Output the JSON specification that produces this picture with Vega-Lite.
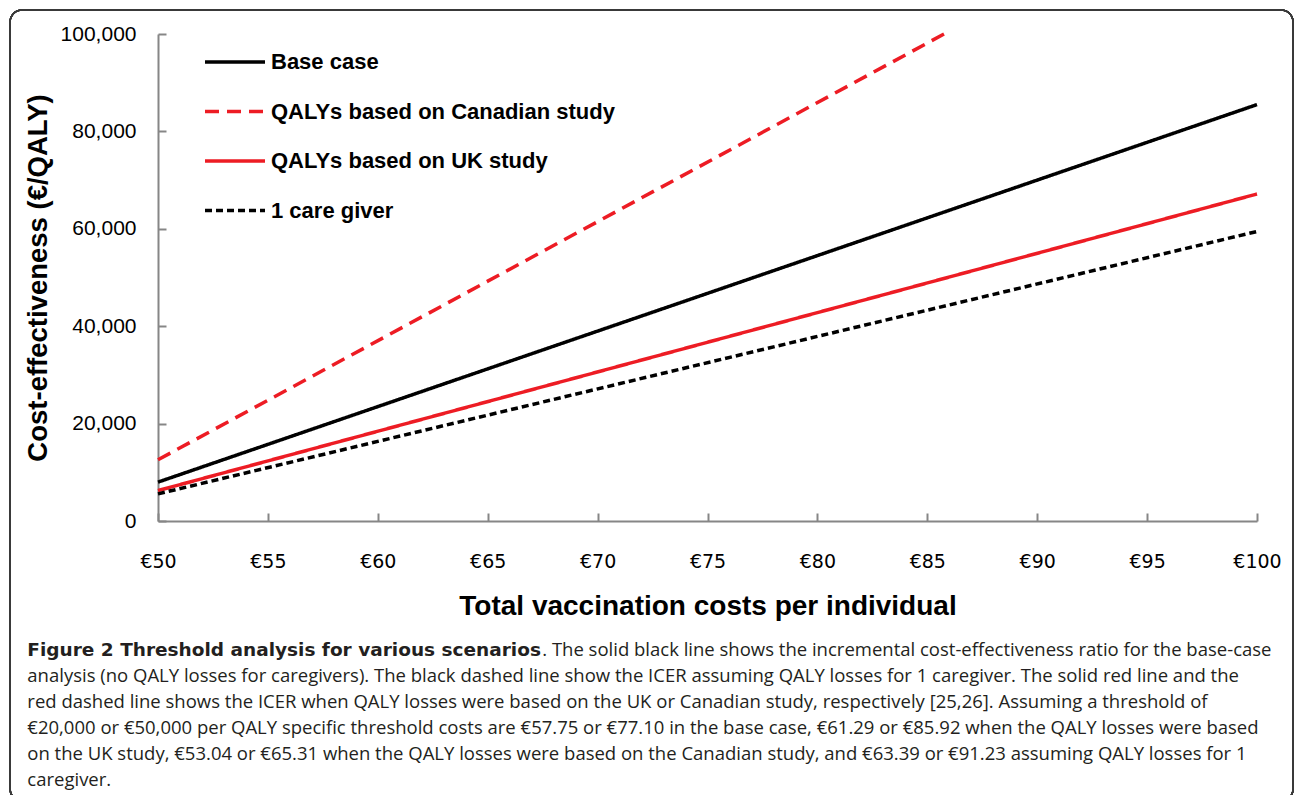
{
  "$schema": "https://vega.github.io/schema/vega-lite/v6.json",
  "width": 1099,
  "height": 487,
  "autosize": {"type": "none"},
  "padding": {"left": 158, "top": 34, "right": 38, "bottom": 274},
  "background": "white",
  "title": {
    "text": "Figure 2 Threshold analysis for various scenarios",
    "subtitle": [
      "\u200b\u2003\u2003\u2003\u2003\u2003\u2003\u2003\u2003\u2003\u2003\u2003\u2003\u2003\u2003\u2003\u2003\u2003\u2003\u2003\u2003\u2003\u2003\u2003\u2003\u2003\u2003\u2003\u2002\u2009\u2009. The solid black line shows the incremental cost-effectiveness ratio for the base-case",
      "analysis (no QALY losses for caregivers). The black dashed line show the ICER assuming QALY losses for 1 caregiver. The solid red line and the",
      "red dashed line shows the ICER when QALY losses were based on the UK or Canadian study, respectively [25,26]. Assuming a threshold of",
      "€20,000 or €50,000 per QALY specific threshold costs are €57.75 or €77.10 in the base case, €61.29 or €85.92 when the QALY losses were based",
      "on the UK study, €53.04 or €65.31 when the QALY losses were based on the Canadian study, and €63.39 or €91.23 assuming QALY losses for 1",
      "caregiver."
    ],
    "orient": "bottom",
    "anchor": "start",
    "frame": "bounds",
    "offset": -161,
    "dx": 18,
    "font": "DejaVu Sans",
    "fontSize": 18.5,
    "fontWeight": "bold",
    "color": "#231f20",
    "lineHeight": 26,
    "subtitleFont": "Open Sans",
    "subtitleFontSize": 18.5,
    "subtitleFontWeight": "normal",
    "subtitleColor": "#231f20",
    "subtitleLineHeight": 26,
    "subtitlePadding": -18.5
  },
  "config": {
    "view": {"stroke": null},
    "axis": {
      "grid": false,
      "domainColor": "#868686",
      "domainWidth": 2,
      "tickColor": "#868686",
      "tickWidth": 2,
      "tickSize": -8,
      "labelColor": "#000000",
      "titleColor": "#000000"
    }
  },
  "data": {
    "values": [
      {"series": "Base case", "cost": 50, "icer": 7984},
      {"series": "Base case", "cost": 100, "icer": 85505},
      {"series": "QALYs based on Canadian study", "cost": 50, "icer": 12567},
      {"series": "QALYs based on Canadian study", "cost": 85.76, "icer": 100000},
      {"series": "QALYs based on UK study", "cost": 50, "icer": 6249},
      {"series": "QALYs based on UK study", "cost": 100, "icer": 67150},
      {"series": "1 care giver", "cost": 50, "icer": 5571},
      {"series": "1 care giver", "cost": 100, "icer": 59451}
    ]
  },
  "layer": [
    {
      "mark": {"type": "rect", "fill": null, "stroke": "#3a3a3a", "strokeWidth": 1.5, "cornerRadius": 12, "clip": false},
      "encoding": {
        "x": {"datum": 43.27, "type": "quantitative"},
        "x2": {"datum": 101.64},
        "y": {"datum": 104928, "type": "quantitative"},
        "y2": {"datum": -57500}
      }
    },
    {
      "mark": {"type": "line", "strokeWidth": 3.5, "clip": false},
      "encoding": {
        "x": {
          "field": "cost",
          "type": "quantitative",
          "scale": {"domain": [50, 100], "nice": false, "zero": false},
          "axis": {
            "values": [50, 55, 60, 65, 70, 75, 80, 85, 90, 95, 100],
            "labelExpr": "'€' + datum.value",
            "labelFlush": false,
            "labelFont": "DejaVu Sans",
            "labelFontSize": 19,
            "labelPadding": 39,
            "title": "Total vaccination costs per individual",
            "titleFont": "Liberation Sans",
            "titleFontSize": 28,
            "titleFontWeight": "bold",
            "titlePadding": 21
          }
        },
        "y": {
          "field": "icer",
          "type": "quantitative",
          "scale": {"domain": [0, 100000], "nice": false},
          "axis": {
            "values": [0, 20000, 40000, 60000, 80000, 100000],
            "format": ",d",
            "labelFont": "Liberation Sans",
            "labelFontSize": 21,
            "labelPadding": 30,
            "title": "Cost-effectiveness (€/QALY)",
            "titleFont": "Liberation Sans",
            "titleFontSize": 27.5,
            "titleFontWeight": "bold",
            "titlePadding": 8
          }
        },
        "color": {
          "field": "series",
          "type": "nominal",
          "scale": {
            "domain": ["Base case", "QALYs based on Canadian study", "QALYs based on UK study", "1 care giver"],
            "range": ["#000000", "#ed1c24", "#ed1c24", "#000000"]
          },
          "legend": {
            "title": null,
            "orient": "none",
            "legendX": 60,
            "legendY": 11,
            "padding": 0,
            "symbolType": "M-2,0L2,0",
            "symbolSize": 900,
            "symbolStrokeWidth": 3.5,
            "labelFont": "Liberation Sans",
            "labelFontSize": 22,
            "labelFontWeight": "bold",
            "labelColor": "#000000",
            "labelOffset": 19,
            "rowPadding": 21.5,
            "labelLimit": 500
          }
        },
        "strokeDash": {
          "field": "series",
          "type": "nominal",
          "scale": {
            "domain": ["Base case", "QALYs based on Canadian study", "QALYs based on UK study", "1 care giver"],
            "range": [[1, 0], [14, 8], [1, 0], [7, 4]]
          },
          "legend": {
            "title": null,
            "orient": "none",
            "legendX": 60,
            "legendY": 11,
            "padding": 0,
            "symbolType": "M-2,0L2,0",
            "symbolSize": 900,
            "symbolStrokeWidth": 3.5,
            "labelFont": "Liberation Sans",
            "labelFontSize": 22,
            "labelFontWeight": "bold",
            "labelColor": "#000000",
            "labelOffset": 19,
            "rowPadding": 21.5,
            "labelLimit": 500
          }
        }
      }
    }
  ]
}
